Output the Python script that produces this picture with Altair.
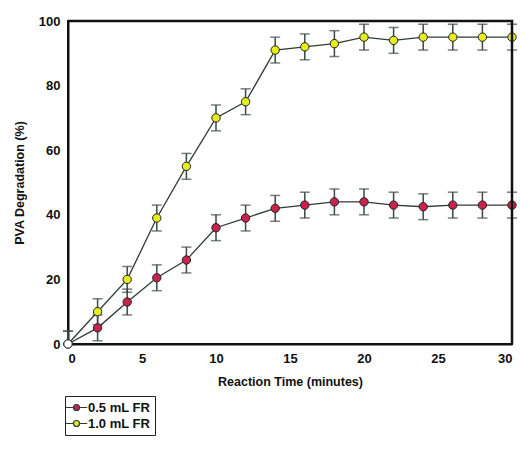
import altair as alt
import pandas as pd

times = [0, 2, 4, 6, 8, 10, 12, 14, 16, 18, 20, 22, 24, 26, 28, 30]
red_vals = [0, 5, 13, 20.5, 26, 36, 39, 42, 43, 44, 44, 43, 42.5, 43, 43, 43]
yel_vals = [0, 10, 20, 39, 55, 70, 75, 91, 92, 93, 95, 94, 95, 95, 95, 95]
red_err = [4] * 16
yel_err = [4] * 16
series = ["0.5 mL FR", "1.0 mL FR"]

rows = []
for s, vals, errs in [(series[0], red_vals, red_err), (series[1], yel_vals, yel_err)]:
    for t, v, e in zip(times, vals, errs):
        rows.append({"t": t, "v": v, "lo": max(v - e, 0) if t > 0 else 0, "hi": v + e, "s": s})
df = pd.DataFrame(rows)

W, H = 444, 323
font = "Liberation Sans"
xs = alt.Scale(domain=[0, 30], nice=False)
ys = alt.Scale(domain=[0, 100], nice=False)
X = alt.X("t:Q", scale=xs, title="Reaction Time (minutes)",
          axis=alt.Axis(values=[0, 5, 10, 15, 20, 25, 30], ticks=False, grid=False, labelPadding=8, titlePadding=10))
Y = alt.Y("v:Q", scale=ys, title="PVA Degradation (%)",
          axis=alt.Axis(values=[0, 20, 40, 60, 80, 100], ticks=False, grid=False, labelPadding=8, titlePadding=12))

base = alt.Chart(df)
err_color = "#3b4848"

rules = base.mark_rule(color=err_color, strokeWidth=1.5).encode(
    x=alt.X("t:Q", scale=xs), y=alt.Y("lo:Q", scale=ys), y2="hi:Q")
cap_lo = base.mark_tick(color=err_color, thickness=1.5, size=10, orient="horizontal").encode(
    x=alt.X("t:Q", scale=xs), y=alt.Y("lo:Q", scale=ys))
cap_hi = base.mark_tick(color=err_color, thickness=1.5, size=10, orient="horizontal").encode(
    x=alt.X("t:Q", scale=xs), y=alt.Y("hi:Q", scale=ys))

lines = base.mark_line(color="#2f3a3a", strokeWidth=1.3).encode(x=X, y=Y, detail="s:N")

legend_path = "M-1.6,0H-0.45 A0.45,0.45 0 1,1 0.45,0 A0.45,0.45 0 1,1 -0.45,0 M0.45,0H1.6"
points = base.mark_point(filled=True, size=70, stroke="#222", strokeWidth=1, opacity=1).encode(
    x=X, y=Y,
    fill=alt.condition(alt.datum.t == 0, alt.value("white"),
                       alt.Fill("s:N", scale=alt.Scale(domain=series, range=["#c8234a", "#e6ee1e"]),
                                legend=alt.Legend(title=None, orient="none", legendX=-3, legendY=375,
                                                  symbolType=legend_path, symbolSize=180,
                                                  symbolStrokeColor="#2f3a3a", symbolStrokeWidth=1.2,
                                                  labelFont=font, labelFontSize=13, labelFontWeight="bold",
                                                  labelColor="#111", strokeColor="#222", padding=4,
                                                  rowPadding=1, fillColor="white")))
)

# top and right frame drawn as a polyline along the scale domain corners
frame_df = pd.DataFrame({"fx": [0, 30, 30], "fy": [100, 100, 0], "o": [0, 1, 2]})
frame = alt.Chart(frame_df).mark_line(color="#111", strokeWidth=2.5).encode(
    x=alt.X("fx:Q", scale=xs), y=alt.Y("fy:Q", scale=ys), order="o:Q")

chart = alt.layer(rules, cap_lo, cap_hi, lines, points, frame).properties(
    width=W, height=H, padding={"left": 5, "top": 7, "right": 0, "bottom": 0}
).configure_view(stroke="#111", strokeWidth=2).configure_axis(
    domainColor="#111", domainWidth=2, labelFont=font, labelFontSize=13, labelFontWeight="bold",
    labelColor="#111", titleFont=font, titleFontSize=12.5, titleFontWeight="bold", titleColor="#111"
)

chart.save("out.html", embed_options={"renderer": "svg", "actions": False})
